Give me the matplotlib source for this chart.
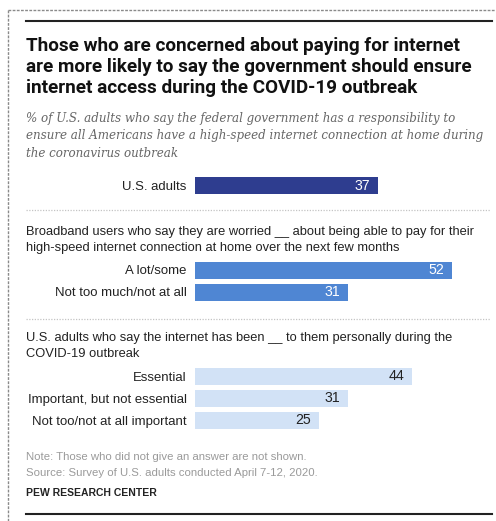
import matplotlib
matplotlib.use('Agg')
import matplotlib.pyplot as plt
from matplotlib.lines import Line2D

W, H = 496, 521

# --- data ---
title_lines = [
    "Those who are concerned about paying for internet",
    "are more likely to say the government should ensure",
    "internet access during the COVID-19 outbreak",
]
subtitle_lines = [
    "% of U.S. adults who say the federal government has a responsibility to",
    "ensure all Americans have a high-speed internet connection at home during",
    "the coronavirus outbreak",
]
adult_labels = ["U.S. adults"]
adult_values = [37]

worry_header = [
    "Broadband users who say they are worried __ about being able to pay for their",
    "high-speed internet connection at home over the next few months",
]
worry_labels = ["A lot/some", "Not too much/not at all"]
worry_values = [52, 31]

importance_header = [
    "U.S. adults who say the internet has been __ to them personally during the",
    "COVID-19 outbreak",
]
importance_labels = ["Essential", "Important, but not essential", "Not too/not at all important"]
importance_values = [44, 31, 25]

note_lines = [
    "Note: Those who did not give an answer are not shown.",
    "Source: Survey of U.S. adults conducted April 7-12, 2020.",
]
credit = "PEW RESEARCH CENTER"

NAVY = "#2e3d8f"
MID = "#4f86d3"
LIGHT = "#d2e2f6"

fig = plt.figure(figsize=(W / 100, H / 100), dpi=100)
fig.patch.set_facecolor("white")


def fx(x):
    return x / W


def fy(y):
    return 1 - y / H


def put(x, y, s, **kw):
    kw.setdefault("va", "baseline")
    return fig.text(fx(x), fy(y), s, **kw)


def fit(t, target_px):
    # scale font size so the text spans target_px wide
    r = fig.canvas.get_renderer()
    w = t.get_window_extent(r).width
    t.set_fontsize(t.get_fontsize() * target_px / w)


def hline(x0, x1, y, **kw):
    fig.add_artist(Line2D([fx(x0), fx(x1)], [fy(y), fy(y)], **kw))


# frame bits
hline(8, 496, 10, color="#8a8a8a", lw=1.0, ls=(0, (2, 1)))
fig.add_artist(Line2D([fx(8), fx(8)], [fy(10), fy(521)], color="#8a8a8a", lw=1.0, ls=(0, (2, 1))))
hline(26, 492, 20.5, color="#222222", lw=1.5)
hline(26, 492, 514, color="#222222", lw=1.5)

# title
TFONT = ["Roboto", "DejaVu Sans"]
t = put(26, 72.3, title_lines[1], fontsize=12.5, fontweight="bold", family=TFONT, color="#111111")
fit(t, 446)
for i, line in enumerate(title_lines):
    if i == 1:
        continue
    put(26, 50.7 + 21.3 * i, line, fontsize=t.get_fontsize(), fontweight="bold",
        family=TFONT, color="#111111")

# subtitle
s = put(26, 139.2, subtitle_lines[1], fontsize=9, style="italic", family="DejaVu Serif", color="#666666")
fit(s, 458)
put(26, 121.7, subtitle_lines[0], fontsize=s.get_fontsize(), style="italic",
    family="DejaVu Serif", color="#666666")
put(26, 156.7, subtitle_lines[2], fontsize=s.get_fontsize(), style="italic",
    family="DejaVu Serif", color="#666666")

# headers
h = put(26, 235.3, worry_header[0], fontsize=8.5, family="Liberation Sans", color="#222222")
fit(h, 445)
hs = h.get_fontsize()
put(26, 250.7, worry_header[1], fontsize=hs, family="Liberation Sans", color="#222222")
put(26, 340.7, importance_header[0], fontsize=hs, family="Liberation Sans", color="#222222")
put(26, 357.3, importance_header[1], fontsize=hs, family="Liberation Sans", color="#222222")

# dotted separators
hline(26, 490, 210, color="#c4c4c4", lw=0.9, ls=(0, (1, 1.2)))
hline(26, 490, 319, color="#c4c4c4", lw=0.9, ls=(0, (1, 1.2)))

PX_PER_UNIT = 4.94
XMAX = 60
ROW = 22


def bar_group(top, labels, values, color, txt_color):
    n = len(labels)
    ax = fig.add_axes([fx(195), fy(top + n * ROW), XMAX * PX_PER_UNIT / W, n * ROW / H])
    ypos = list(range(n))
    ax.barh(ypos, values, height=17 / ROW, color=color, edgecolor="none")
    ax.set_xlim(0, XMAX)
    ax.set_ylim(n - 0.5, -0.5)
    ax.set_yticks(ypos)
    ax.set_yticklabels(labels, fontsize=hs * 1.02, family="Liberation Sans", color="#222222")
    ax.tick_params(axis="y", length=0, pad=6)
    ax.set_xticks([])
    for sp in ax.spines.values():
        sp.set_visible(False)
    ax.patch.set_alpha(0)
    for y, v in zip(ypos, values):
        ax.text(v - 8 / PX_PER_UNIT, y, str(v), ha="right", va="center",
                fontsize=hs * 1.1, family="Liberation Sans", color=txt_color)
    return ax


bar_group(174.5, adult_labels, adult_values, NAVY, "white")
bar_group(259, worry_labels, worry_values, MID, "white")
bar_group(365.5, importance_labels, importance_values, LIGHT, "#222222")

# notes
n0 = put(26, 460, note_lines[0], fontsize=7, family="Liberation Sans", color="#9a9a9a")
n1 = put(26, 475.7, note_lines[1], fontsize=7, family="Liberation Sans", color="#9a9a9a")
fit(n1, 292)
n0.set_fontsize(n1.get_fontsize())
c = put(26, 496, credit, fontsize=7.5, fontweight="bold", family="Liberation Sans", color="#222222")
fit(c, 130)

fig.savefig("out.png", dpi=100, facecolor="white")
